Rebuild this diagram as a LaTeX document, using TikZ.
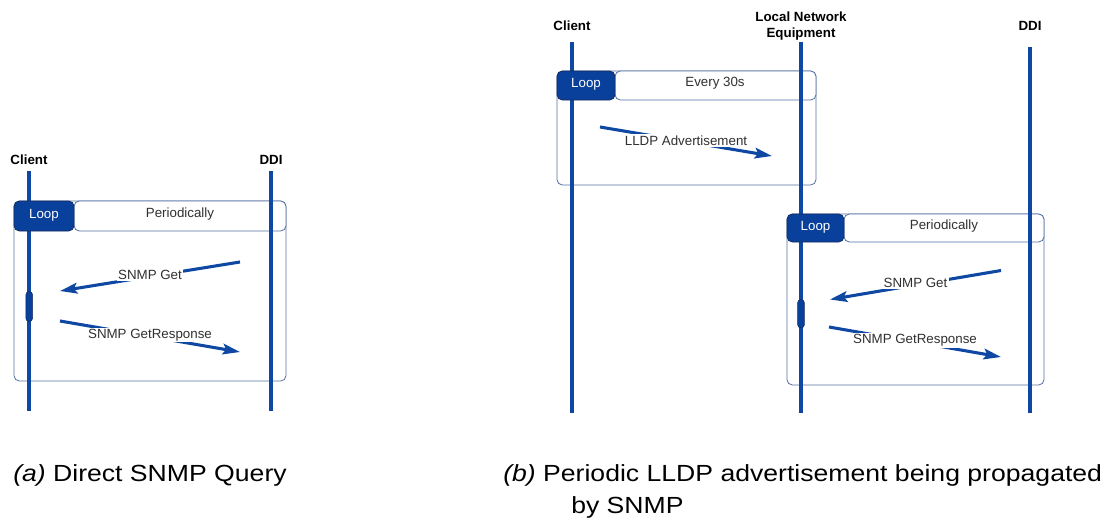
\documentclass[tikz,border=0pt]{standalone}
\usepackage{fontspec}
\setmainfont{Liberation Sans}
\newfontfamily\capfont[FakeStretch=1.14]{Liberation Sans}
\usetikzlibrary{arrows.meta}
\definecolor{seqblue}{RGB}{14,72,162}
\definecolor{tabblue}{RGB}{8,64,156}
\definecolor{tabedge}{RGB}{22,44,92}
\definecolor{framecol}{RGB}{84,112,162}
\definecolor{txtgray}{RGB}{48,48,48}
\tikzset{
  actor/.style={font=\fontsize{10}{11.5}\selectfont\bfseries, align=center, inner sep=0pt, text=black},
  lifeline/.style={draw=seqblue, line width=2.4pt},
  frame/.style={draw=framecol, line width=0.6pt, rounded corners=4pt},
  looptab/.style={draw=tabedge, fill=tabblue, line width=0.6pt, rounded corners=4pt},
  guardbox/.style={draw=framecol, fill=white, line width=0.6pt, rounded corners=4pt},
  tabtext/.style={font=\fontsize{10}{12}\selectfont, text=white, inner sep=0pt},
  guardtext/.style={font=\fontsize{10}{12}\selectfont, text=txtgray, inner sep=0pt},
  activation/.style={fill=tabblue, draw=tabedge, line width=0.4pt, rounded corners=2.5pt},
  msg/.style={draw=seqblue, line width=2.3pt, -{Stealth[length=13pt,width=8pt,inset=2.5pt]}},
  msglabel/.style={fill=white, inner sep=1pt, text=txtgray, font=\fontsize{10}{12}\selectfont},
  caption/.style={font=\capfont\fontsize{17.5}{21}\selectfont, anchor=base west, inner sep=0pt, text=black},
}
\begin{document}
\begin{tikzpicture}[x=0.75pt, y=-0.75pt]
\useasboundingbox (0,0) rectangle (1106,521);

% ---------- (a) direct query ----------
\node[actor] (ca) at (29,160) {Client};
\node[actor] (da) at (271,160) {DDI};

\draw[frame] (14,201) rectangle (286,381);
\draw[guardbox] (74,201) rectangle (286,231);
\node[guardtext] (guarda) at (180,214) {Periodically};

\draw[lifeline] (ca.center |- 0,171) -- (ca.center |- 0,411);
\draw[lifeline] (da.center |- 0,171) -- (da.center |- 0,411);
\draw[activation] (25.8,291.5) rectangle (32.6,321.5);

% loop tab sits above the lifeline
\draw[looptab] (14,201) rectangle (74,231);
\node[tabtext] (loopa) at (44,215) {Loop};

\coordinate (ga1) at (240,262);
\coordinate (ga2) at (60,291);
\coordinate (ra1) at (60,321);
\coordinate (ra2) at (240,352);
\draw[msg] (ga1) -- node[msglabel, yshift=1.5pt] {SNMP Get} (ga2);
\draw[msg] (ra1) -- node[msglabel, yshift=1.2pt] {SNMP GetResponse} (ra2);

\node[caption] (capa) at (13,481.5) {\textit{(a)} Direct SNMP Query};

% ---------- (b) LLDP propagated by SNMP ----------
\node[actor] (cb) at (572,26) {Client};
\node[actor] (lb) at (801,26) {Local Network\\Equipment};
\node[actor] (db) at (1030,26) {DDI};

\draw[frame] (557,71) rectangle (816,185);
\draw[guardbox] (615,71) rectangle (816,100);
\node[guardtext] (guardb1) at (715,83.5) {Every 30s};

\draw[frame] (787,214) rectangle (1044,385);
\draw[guardbox] (844,214) rectangle (1044,242);
\node[guardtext] (guardb2) at (944,226.5) {Periodically};

\draw[lifeline] (cb.center |- 0,42) -- (cb.center |- 0,413);
\draw[lifeline] (lb.center |- 0,42) -- (lb.center |- 0,413);
\draw[lifeline] (db.center |- 0,47) -- (db.center |- 0,413);
\draw[activation] (797.6,299.5) rectangle (804.4,328);

\draw[looptab] (557,71) rectangle (615,100);
\node[tabtext] (loopb1) at (586,84) {Loop};
\draw[looptab] (787,214) rectangle (844,242);
\node[tabtext] (loopb2) at (815.5,227) {Loop};

\coordinate (l1) at (600,127);
\coordinate (l2) at (772,156);
\draw[msg] (l1) -- node[msglabel, yshift=0.8pt] {LLDP Advertisement} (l2);

\coordinate (gb1) at (1001,270.5);
\coordinate (gb2) at (830,299.5);
\coordinate (rb1) at (829,327);
\coordinate (rb2) at (1001,357);
\draw[msg] (gb1) -- node[msglabel, yshift=1.3pt] {SNMP Get} (gb2);
\draw[msg] (rb1) -- node[msglabel, yshift=1pt] {SNMP GetResponse} (rb2);

\node[caption] (capb1) at (503,481.5) {\textit{(b)} Periodic LLDP advertisement being propagated};
\node[caption] (capb2) at (571,513) {by SNMP};
\end{tikzpicture}
\end{document}
